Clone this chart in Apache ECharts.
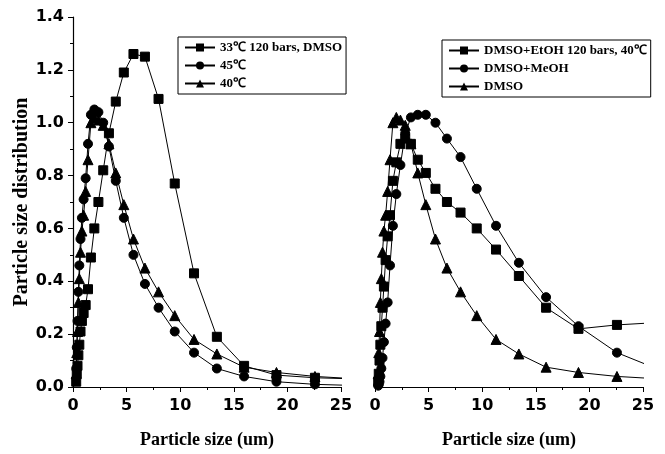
<!DOCTYPE html>
<html>
<head>
<meta charset="utf-8">
<script src="https://cdn.jsdelivr.net/npm/echarts@6/dist/echarts.min.js"></script>
<style>
  html, body { margin: 0; padding: 0; background: #fff; }
  #chart { width: 665px; height: 454px; }
</style>
</head>
<body>
<div id="chart"></div>
<script>
// particle size bins (um), last one sits past the axis end and gets clipped
var sizes = [0.30, 0.35, 0.42, 0.50, 0.59, 0.70, 0.83, 0.99, 1.18, 1.40, 1.67, 1.99, 2.37, 2.82,
             3.35, 3.99, 4.74, 5.64, 6.71, 7.98, 9.49, 11.29, 13.42, 15.96, 18.98, 22.57, 26.84];

// left panel: temperature, DMSO 120 bars
var dist33 = [0.02, 0.05, 0.08, 0.12, 0.16, 0.21, 0.25, 0.28, 0.31, 0.37, 0.49, 0.60, 0.70, 0.82,
              0.96, 1.08, 1.19, 1.26, 1.25, 1.09, 0.77, 0.43, 0.19, 0.08, 0.045, 0.035, 0.03];
var dist45 = [0.07, 0.15, 0.25, 0.36, 0.46, 0.56, 0.64, 0.71, 0.79, 0.92, 1.03, 1.05, 1.04, 1.00,
              0.91, 0.78, 0.64, 0.50, 0.39, 0.30, 0.21, 0.13, 0.07, 0.04, 0.02, 0.01, 0.005];
// 40 C, 120 bars, DMSO - same run shows up in both panels
var dist40 = [0.05, 0.13, 0.21, 0.32, 0.41, 0.51, 0.59, 0.65, 0.74, 0.86, 1.00, 1.02, 1.01, 0.99,
              0.92, 0.81, 0.69, 0.56, 0.45, 0.36, 0.27, 0.18, 0.125, 0.075, 0.055, 0.04, 0.03];

// right panel: co-solvent, 120 bars 40 C
var distEtOH = [0.02, 0.05, 0.10, 0.16, 0.23, 0.30, 0.38, 0.48, 0.57, 0.65, 0.78, 0.85, 0.92, 0.94,
                0.92, 0.86, 0.81, 0.75, 0.70, 0.66, 0.60, 0.52, 0.42, 0.30, 0.22, 0.235, 0.245];
var distMeOH = [0.005, 0.01, 0.02, 0.04, 0.07, 0.11, 0.17, 0.24, 0.32, 0.46, 0.61, 0.73, 0.84, 0.96,
                1.02, 1.03, 1.03, 1.00, 0.94, 0.87, 0.75, 0.61, 0.47, 0.34, 0.23, 0.13, 0.06];

var leftNames = ['33℃ 120 bars, DMSO', '45℃', '40℃'];
var rightNames = ['DMSO+EtOH 120 bars, 40℃', 'DMSO+MeOH', 'DMSO'];

var xTicks = [0, 5, 10, 15, 20, 25];
var yTicks = [0, 0.2, 0.4, 0.6, 0.8, 1.0, 1.2, 1.4];

function pairs(ys) {
    var out = [];
    for (var i = 0; i < sizes.length; i++) out.push([sizes[i], ys[i]]);
    return out;
}

var serif = 'Liberation Serif';
var sans = 'DejaVu Sans';

function xAxis(idx) {
    return {
        type: 'value', gridIndex: idx,
        min: xTicks[0], max: xTicks[xTicks.length - 1], interval: 5,
        name: 'Particle size (um)', nameLocation: 'middle', nameGap: 44,
        nameTextStyle: { fontFamily: serif, fontWeight: 'bold', fontSize: 18, color: '#000' },
        axisLine: { lineStyle: { color: '#000', width: 1.2 } },
        axisTick: { inside: false, length: 5, lineStyle: { color: '#000' } },
        minorTick: { show: true, splitNumber: 2, length: 3, lineStyle: { color: '#000' } },
        axisLabel: { margin: 11, fontFamily: sans, fontWeight: 'bold', fontSize: 16, color: '#000' },
        splitLine: { show: false }
    };
}

function yAxis(idx, visible) {
    return {
        type: 'value', gridIndex: idx,
        min: yTicks[0], max: yTicks[yTicks.length - 1], interval: 0.2,
        name: visible ? 'Particle size distribution' : '', nameLocation: 'middle', nameGap: 38,
        nameTextStyle: { fontFamily: serif, fontWeight: 'bold', fontSize: 20, color: '#000' },
        axisLine: { show: visible, lineStyle: { color: '#000', width: 1.2 } },
        axisTick: { show: visible, length: 5, lineStyle: { color: '#000' } },
        minorTick: { show: visible, splitNumber: 2, length: 3, lineStyle: { color: '#000' } },
        axisLabel: {
            show: visible, margin: 9, fontFamily: sans, fontWeight: 'bold', fontSize: 16, color: '#000',
            formatter: function (v) { return v.toFixed(1); }
        },
        splitLine: { show: false }
    };
}

function line(name, idx, ys, symbol, size) {
    return {
        name: name, type: 'line', xAxisIndex: idx, yAxisIndex: idx,
        data: pairs(ys), clip: true,
        symbol: symbol, symbolSize: size, showAllSymbol: true,
        lineStyle: { color: '#000', width: 1 },
        itemStyle: { color: '#000', borderColor: '#000' },
        emphasis: { disabled: true },
        animation: false
    };
}

function legend(names, left, top) {
    return {
        data: names, left: left, top: top, orient: 'vertical',
        itemWidth: 30, itemHeight: 10, itemGap: 5,
        padding: [4, 4, 4, 6],
        borderColor: '#000', borderWidth: 1,
        textStyle: { fontFamily: serif, fontWeight: 'bold', fontSize: 13, color: '#000' },
        selectedMode: false
    };
}

var myChart = echarts.init(document.getElementById('chart'));

option = {
    backgroundColor: '#fff',
    animation: false,
    grid: [
        { left: 73, right: 324, top: 17, bottom: 62 },
        { left: 375, right: 22, top: 17, bottom: 62 }
    ],
    legend: [
        legend(leftNames, 178, 37),
        legend(rightNames, 442, 40)
    ],
    xAxis: [xAxis(0), xAxis(1)],
    yAxis: [yAxis(0, true), yAxis(1, false)],
    series: [
        line(leftNames[0], 0, dist33, 'rect', 9),
        line(leftNames[1], 0, dist45, 'circle', 9),
        line(leftNames[2], 0, dist40, 'triangle', 10),
        line(rightNames[0], 1, distEtOH, 'rect', 9),
        line(rightNames[1], 1, distMeOH, 'circle', 9),
        line(rightNames[2], 1, dist40, 'triangle', 10)
    ]
};
myChart.setOption(option);
</script>
</body>
</html>
